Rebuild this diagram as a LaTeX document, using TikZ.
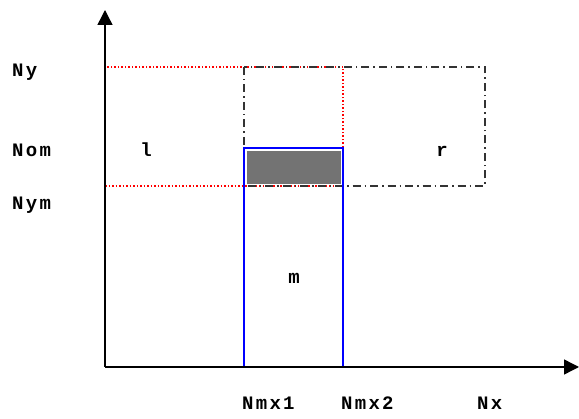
\documentclass[tikz,border=0pt]{standalone}
\usepackage{fontspec}
\setmonofont{Liberation Mono}
\newfontfamily\lblfont[LetterSpace=12]{Liberation Mono Bold}
\usetikzlibrary{arrows.meta}
\begin{document}
\begin{tikzpicture}[x=1pt,y=-1pt,
  lbl/.style={font=\lblfont\fontsize{19}{19}\selectfont, inner sep=0pt, anchor=base west},
  clbl/.style={font=\lblfont\fontsize{19}{19}\selectfont, inner sep=0pt, anchor=base},
  axis/.style={line width=1.4pt, -{Triangle[length=15pt,width=15pt]}},
  redbox/.style={red, line width=1.2pt, dash pattern=on 1.5pt off 2pt},
  dashdot/.style={black!80, line width=1.4pt, dash pattern=on 8pt off 4pt on 1.5pt off 4pt},
  bluebox/.style={blue, line width=1.3pt},
  shade/.style={fill=black!55}]
\useasboundingbox (0,0) rectangle (579,419);
\coordinate (O) at (105,367);
\coordinate (Ytip) at (105,10);
\coordinate (Xtip) at (579,367);
% shaded overlap
\fill[shade] (247,151) rectangle (341,184);
% red dotted box
\draw[redbox] (105,67) rectangle (343,186);
% dash-dot box
\draw[dashdot] (244,67) rectangle (485,186);
% blue box
\draw[bluebox] (244,148) rectangle (343,367);
% axes
\draw[axis] (O) -- (Ytip);
\draw[axis] (O) -- (Xtip);
% labels
\node[lbl] (ny) at (12,77) {Ny};
\node[lbl] (nom) at (12,157) {Nom};
\node[lbl] (nym) at (12,210) {Nym};
\node[clbl] (l) at (146,157) {l};
\node[clbl] (r) at (442,157) {r};
\node[clbl] (m) at (294,284) {m};
\node[lbl] (nmx1) at (242,410) {Nmx1};
\node[lbl] (nmx2) at (341,410) {Nmx2};
\node[lbl] (nx) at (477,410) {Nx};
\end{tikzpicture}
\end{document}
